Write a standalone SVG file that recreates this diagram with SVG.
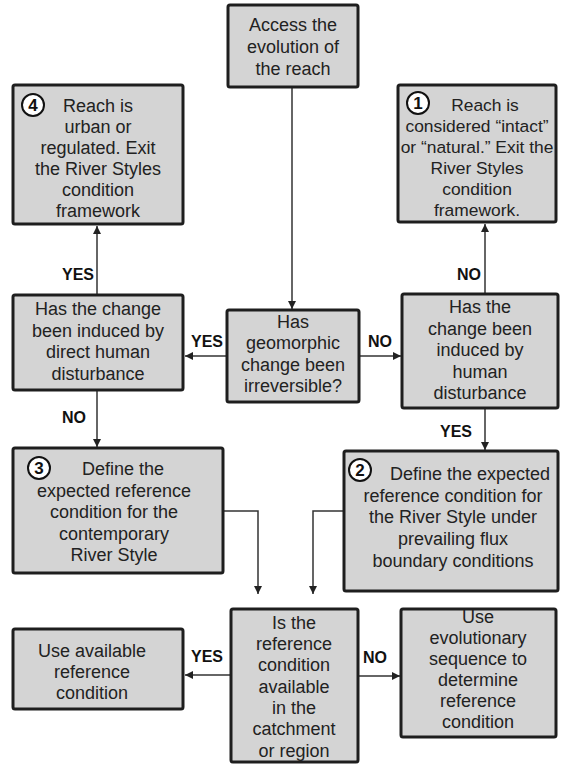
<svg xmlns="http://www.w3.org/2000/svg" width="563" height="766" viewBox="0 0 563 766">
  <defs>
    <marker id="arrow" viewBox="0 0 10 10" refX="10" refY="5" markerWidth="8" markerHeight="8" markerUnits="userSpaceOnUse" orient="auto">
      <path d="M0,0 L10,5 L0,10 z" fill="#222"/>
    </marker>
    <style>
      .box { fill: #d4d4d4; stroke: #1e1e1e; stroke-width: 3; }
      .t { font-family: "Liberation Sans", Arial, sans-serif; font-size: 18px; fill: #222; text-anchor: middle; }
      .s { font-size: 17.4px; }
      .lbl { font-family: "Liberation Sans", Arial, sans-serif; font-size: 16px; font-weight: bold; fill: #111; }
      .num { font-family: "Liberation Sans", Arial, sans-serif; font-size: 17px; font-weight: bold; fill: #111; text-anchor: middle; }
      .circ { fill: #fff; stroke: #111; stroke-width: 2; }
      .conn { fill: none; stroke: #333; stroke-width: 1.5; }
    </style>
  </defs>
  <rect width="563" height="766" fill="#fff"/>

  <g id="connectors">
    <path class="conn" d="M292,87 V309" marker-end="url(#arrow)"/>
    <path class="conn" d="M227,356 H185" marker-end="url(#arrow)"/>
    <path class="conn" d="M359,356 H401" marker-end="url(#arrow)"/>
    <path class="conn" d="M97,295 V226" marker-end="url(#arrow)"/>
    <path class="conn" d="M485,294 V224" marker-end="url(#arrow)"/>
    <path class="conn" d="M97,390 V447" marker-end="url(#arrow)"/>
    <path class="conn" d="M485,408 V450" marker-end="url(#arrow)"/>
    <path class="conn" d="M223,511 H258 V594" marker-end="url(#arrow)"/>
    <path class="conn" d="M343,511 H313 V594" marker-end="url(#arrow)"/>
    <path class="conn" d="M231,675 H185" marker-end="url(#arrow)"/>
    <path class="conn" d="M358,676 H400" marker-end="url(#arrow)"/>
    <text class="lbl" x="62" y="280">YES</text>
    <text class="lbl" x="457" y="280">NO</text>
    <text class="lbl" x="191" y="347">YES</text>
    <text class="lbl" x="368" y="347">NO</text>
    <text class="lbl" x="62" y="423">NO</text>
    <text class="lbl" x="440" y="437">YES</text>
    <text class="lbl" x="191" y="662">YES</text>
    <text class="lbl" x="363" y="663">NO</text>
  </g>

  <g id="access">
    <rect class="box" x="228" y="5" width="130" height="82" rx="2"/>
    <text class="t" x="293" y="31">Access the</text>
    <text class="t" x="293" y="53">evolution of</text>
    <text class="t" x="293" y="75">the reach</text>
  </g>

  <g id="urban">
    <rect class="box" x="13" y="85" width="170" height="139" rx="2"/>
    <circle class="circ" cx="33" cy="105" r="11"/>
    <text class="num" x="33" y="111">4</text>
    <text class="t" x="98" y="112">Reach is</text>
    <text class="t" x="98" y="133">urban or</text>
    <text class="t" x="98" y="154">regulated. Exit</text>
    <text class="t" x="98" y="175">the River Styles</text>
    <text class="t" x="98" y="196">condition</text>
    <text class="t" x="98" y="217">framework</text>
  </g>

  <g id="intact">
    <rect class="box" x="398" y="85" width="158" height="137" rx="2"/>
    <circle class="circ" cx="418" cy="103" r="11"/>
    <text class="num" x="418" y="109">1</text>
    <text class="t s" x="485" y="111">Reach is</text>
    <text class="t s" x="477" y="132">considered “intact”</text>
    <text class="t s" x="477" y="153">or “natural.” Exit the</text>
    <text class="t s" x="477" y="174">River Styles</text>
    <text class="t s" x="477" y="195">condition</text>
    <text class="t s" x="477" y="216">framework.</text>
  </g>

  <g id="direct-human">
    <rect class="box" x="13" y="295" width="170" height="95" rx="2"/>
    <text class="t" x="98" y="315">Has the change</text>
    <text class="t" x="98" y="337">been induced by</text>
    <text class="t" x="98" y="358">direct human</text>
    <text class="t" x="98" y="380">disturbance</text>
  </g>

  <g id="irreversible">
    <rect class="box" x="227" y="310" width="132" height="92" rx="2"/>
    <text class="t" x="293" y="328">Has</text>
    <text class="t" x="293" y="349">geomorphic</text>
    <text class="t" x="293" y="371">change been</text>
    <text class="t" x="293" y="392">irreversible?</text>
  </g>

  <g id="human">
    <rect class="box" x="402" y="294" width="156" height="114" rx="2"/>
    <text class="t" x="480" y="313">Has the</text>
    <text class="t" x="480" y="335">change been</text>
    <text class="t" x="480" y="356">induced by</text>
    <text class="t" x="480" y="378">human</text>
    <text class="t" x="480" y="399">disturbance</text>
  </g>

  <g id="contemporary">
    <rect class="box" x="13" y="448" width="210" height="125" rx="2"/>
    <circle class="circ" cx="39" cy="468" r="11"/>
    <text class="num" x="39" y="474">3</text>
    <text class="t" x="123" y="475">Define the</text>
    <text class="t" x="114" y="497">expected reference</text>
    <text class="t" x="114" y="518">condition for the</text>
    <text class="t" x="114" y="540">contemporary</text>
    <text class="t" x="114" y="561">River Style</text>
  </g>

  <g id="prevailing">
    <rect class="box" x="344" y="451" width="214" height="140" rx="2"/>
    <circle class="circ" cx="360" cy="470" r="11"/>
    <text class="num" x="360" y="476">2</text>
    <text class="t" x="470" y="480">Define the expected</text>
    <text class="t" x="453" y="502">reference condition for</text>
    <text class="t" x="453" y="523">the River Style under</text>
    <text class="t" x="453" y="545">prevailing flux</text>
    <text class="t" x="453" y="567">boundary conditions</text>
  </g>

  <g id="available">
    <rect class="box" x="231" y="609" width="127" height="153" rx="2"/>
    <text class="t" x="294" y="629">Is the</text>
    <text class="t" x="294" y="650">reference</text>
    <text class="t" x="294" y="671">condition</text>
    <text class="t" x="294" y="693">available</text>
    <text class="t" x="294" y="714">in the</text>
    <text class="t" x="294" y="735">catchment</text>
    <text class="t" x="294" y="757">or region</text>
  </g>

  <g id="use-available">
    <rect class="box" x="13" y="629" width="170" height="80" rx="2"/>
    <text class="t" x="92" y="657">Use available</text>
    <text class="t" x="92" y="678">reference</text>
    <text class="t" x="92" y="699">condition</text>
  </g>

  <g id="evolutionary">
    <rect class="box" x="401" y="609" width="155" height="128" rx="2"/>
    <text class="t" x="478" y="623">Use</text>
    <text class="t" x="478" y="644">evolutionary</text>
    <text class="t" x="478" y="665">sequence to</text>
    <text class="t" x="478" y="686">determine</text>
    <text class="t" x="478" y="707">reference</text>
    <text class="t" x="478" y="728">condition</text>
  </g>
</svg>
